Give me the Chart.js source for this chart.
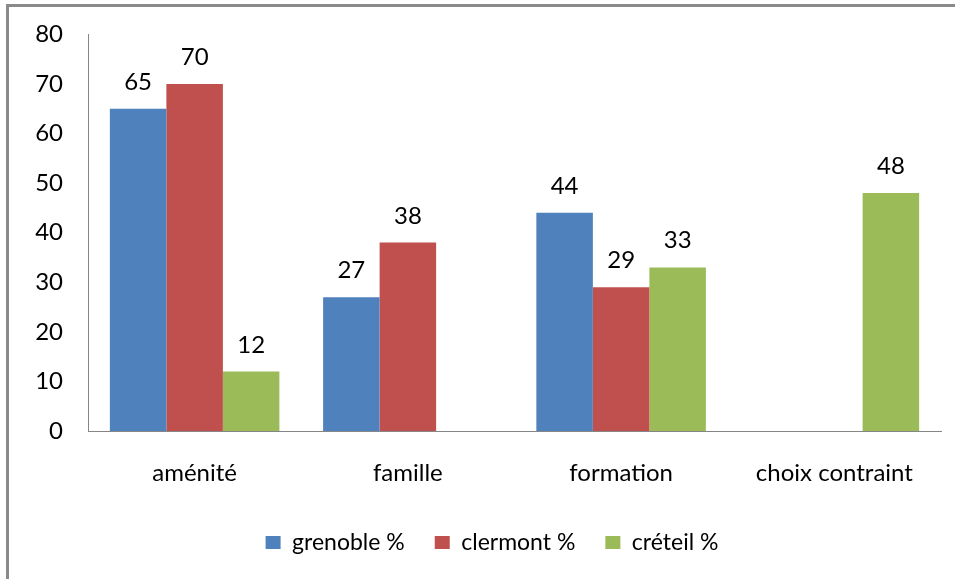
<!DOCTYPE html>
<html>
<head>
<meta charset="utf-8">
<script src="https://cdn.jsdelivr.net/npm/chart.js@4/dist/chart.umd.min.js"></script>
<style>
  html, body { margin: 0; padding: 0; background: #fff; overflow: hidden; width: 955px; height: 579px; }
  #frame { position: absolute; left: 6px; top: 4px; width: 1000px; height: 600px;
           border-left: 3px solid #8a8a8a; border-top: 3px solid #8a8a8a; }
  #wrap { position: absolute; left: 8px; top: -5px; width: 968px; height: 584px; }
</style>
</head>
<body>
<div id="frame"></div>
<div id="wrap"><canvas id="c" width="968" height="584"></canvas></div>
<script>
const categories = ["aménité", "famille", "formation", "choix contraint"];
const grenoble = [65, 27, 44, null];
const clermont = [70, 38, 29, null];
const creteil = [12, null, 33, 48];
const seriesNames = ["grenoble %", "clermont %", "créteil %"];
const yTicks = [0, 10, 20, 30, 40, 50, 60, 70, 80];

const FONT = "Lato, 'Open Sans', sans-serif";

const valueLabels = {
  id: 'valueLabels',
  afterDatasetsDraw(chart) {
    const ctx = chart.ctx;
    ctx.save();
    ctx.font = "24px " + FONT;
    ctx.fillStyle = "#000";
    ctx.textAlign = "center";
    ctx.textBaseline = "alphabetic";
    chart.data.datasets.forEach((ds, i) => {
      const meta = chart.getDatasetMeta(i);
      meta.data.forEach((el, j) => {
        const v = ds.data[j];
        if (v === null || v === undefined) return;
        ctx.fillText(String(v), el.x, el.y - 19);
      });
    });
    ctx.restore();
  }
};

new Chart(document.getElementById('c'), {
  type: 'bar',
  data: {
    labels: categories,
    datasets: [
      { label: seriesNames[0], data: grenoble, backgroundColor: '#4F81BD' },
      { label: seriesNames[1], data: clermont, backgroundColor: '#C0504D' },
      { label: seriesNames[2], data: creteil, backgroundColor: '#9BBB59' }
    ]
  },
  options: {
    responsive: false,
    animation: false,
    events: [],
    categoryPercentage: 0.795,
    barPercentage: 1.0,
    layout: { padding: { top: 30, left: 0, right: 0, bottom: 15 } },
    plugins: {
      legend: {
        position: 'bottom',
        labels: {
          font: { family: FONT, size: 23 },
          color: '#000',
          boxWidth: 15,
          boxHeight: 13,
          padding: 30
        }
      },
      tooltip: { enabled: false },
      title: { display: false }
    },
    scales: {
      x: {
        afterFit(scale) { scale.height = 70; },
        grid: { display: false, drawTicks: false },
        border: { display: true, color: '#868686', width: 1 },
        ticks: { font: { family: FONT, size: 24 }, color: '#000', padding: 28, maxRotation: 0 }
      },
      y: {
        min: 0, max: 80,
        afterBuildTicks(scale) { scale.ticks = yTicks.map(v => ({ value: v })); },
        afterFit(scale) { scale.width = 80; },
        grid: { display: false, drawTicks: false },
        border: { display: true, color: '#868686', width: 1 },
        ticks: { font: { family: FONT, size: 24 }, color: '#000', padding: 25 }
      },
      yR: {
        position: 'right',
        display: true,
        afterFit(scale) { scale.width = 35; },
        grid: { display: false, drawTicks: false },
        border: { display: false },
        ticks: { display: false }
      }
    }
  },
  plugins: [valueLabels]
});
</script>
</body>
</html>
